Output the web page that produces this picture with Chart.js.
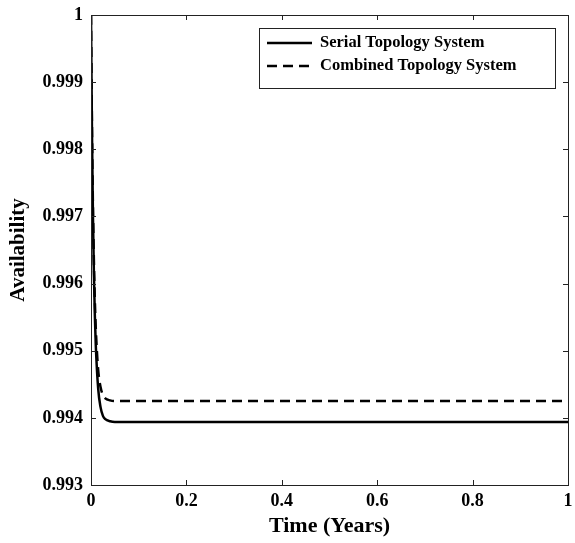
<!DOCTYPE html>
<html>
<head>
<meta charset="utf-8">
<script src="https://cdn.jsdelivr.net/npm/chart.js@4/dist/chart.umd.min.js"></script>
<style>
  html, body { margin: 0; padding: 0; background: #fff; }
  #wrap { position: relative; width: 575px; height: 543px; }
</style>
</head>
<body>
<div id="wrap"><canvas id="chart" width="575" height="543"></canvas></div>
<script>
// ---- data ----
const timeYears = [0, 0.002, 0.004, 0.006, 0.008, 0.01, 0.015, 0.02, 0.025, 0.03, 0.04, 0.05, 0.1, 0.2, 0.3, 0.4, 0.5, 0.6, 0.7, 0.8, 0.9, 1];
const serialAvail = [1, 0.99829, 0.99705, 0.99617, 0.99554, 0.99509, 0.99444, 0.99416, 0.99403, 0.99398, 0.99395, 0.99394, 0.99394, 0.99394, 0.99394, 0.99394, 0.99394, 0.99394, 0.99394, 0.99394, 0.99394, 0.99394];
const combinedAvail = [1, 0.99837, 0.99720, 0.99637, 0.99577, 0.99534, 0.99472, 0.99446, 0.99434, 0.99429, 0.99426, 0.99425, 0.99425, 0.99425, 0.99425, 0.99425, 0.99425, 0.99425, 0.99425, 0.99425, 0.99425, 0.99425];
const seriesLabels = ['Serial Topology System', 'Combined Topology System'];
const xTicks = [0, 0.2, 0.4, 0.6, 0.8, 1];
const yTicks = [0.993, 0.994, 0.995, 0.996, 0.997, 0.998, 0.999, 1];

const FONT = '"Liberation Serif", "Times New Roman", serif';

function toPoints(ys) {
    return timeYears.map((t, i) => ({ x: t, y: ys[i] }));
}

// box around plot + inward ticks on all four sides, plus the legend
const frame = {
    id: 'frame',
    afterDraw(chart) {
        const ctx = chart.ctx;
        const a = chart.chartArea;
        const xs = chart.scales.x, ys = chart.scales.y;
        const len = 5;
        ctx.save();
        ctx.strokeStyle = '#222';
        ctx.lineWidth = 1;
        ctx.strokeRect(a.left + 0.5, a.top + 0.5, a.right - a.left, a.bottom - a.top);
        ctx.beginPath();
        xTicks.forEach(v => {
            const px = Math.round(xs.getPixelForValue(v)) + 0.5;
            ctx.moveTo(px, a.bottom); ctx.lineTo(px, a.bottom - len);
            ctx.moveTo(px, a.top); ctx.lineTo(px, a.top + len);
        });
        yTicks.forEach(v => {
            const py = Math.round(ys.getPixelForValue(v)) + 0.5;
            ctx.moveTo(a.left, py); ctx.lineTo(a.left + len, py);
            ctx.moveTo(a.right, py); ctx.lineTo(a.right - len, py);
        });
        ctx.stroke();

        // legend
        const lx = 259, ly = 28, lw = 296, lh = 60;
        ctx.fillStyle = '#fff';
        ctx.fillRect(lx, ly, lw, lh);
        ctx.strokeStyle = '#222';
        ctx.strokeRect(lx + 0.5, ly + 0.5, lw, lh);
        ctx.font = 'bold 16.5px ' + FONT;
        ctx.textBaseline = 'middle';
        chart.data.datasets.forEach((ds, i) => {
            const y = ly + 15 + i * 23;
            ctx.beginPath();
            ctx.strokeStyle = '#000';
            ctx.lineWidth = 2.5;
            ctx.setLineDash(ds.borderDash || []);
            ctx.moveTo(lx + 8, y);
            ctx.lineTo(lx + 53, y);
            ctx.stroke();
            ctx.setLineDash([]);
            ctx.fillStyle = '#000';
            ctx.fillText(ds.label, lx + 61, y);
        });
        ctx.restore();
    }
};

new Chart(document.getElementById('chart'), {
    type: 'line',
    data: {
        datasets: [
            {
                label: seriesLabels[0],
                data: toPoints(serialAvail),
                borderColor: '#000',
                borderWidth: 2.5,
                pointRadius: 0,
                cubicInterpolationMode: 'monotone'
            },
            {
                label: seriesLabels[1],
                data: toPoints(combinedAvail),
                borderColor: '#000',
                borderWidth: 2.5,
                borderDash: [10, 6],
                pointRadius: 0,
                cubicInterpolationMode: 'monotone'
            }
        ]
    },
    options: {
        responsive: false,
        animation: false,
        layout: { padding: { top: 15, right: 7, left: 0, bottom: 0 } },
        plugins: { legend: { display: false }, tooltip: { enabled: false } },
        scales: {
            x: {
                type: 'linear',
                min: 0,
                max: 1,
                afterBuildTicks: s => { s.ticks = xTicks.map(v => ({ value: v })); },
                afterFit: s => { s.height = 58; s.paddingLeft = 0; s.paddingRight = 0; },
                grid: { display: false, drawTicks: false },
                border: { display: false },
                ticks: {
                    color: '#000',
                    padding: 6,
                    maxRotation: 0,
                    font: { family: FONT, size: 18, weight: 'bold' },
                    callback: v => String(Number(v.toFixed(1)))
                },
                title: {
                    display: true,
                    text: 'Time (Years)',
                    color: '#000',
                    padding: { top: 0, bottom: 3 },
                    font: { family: FONT, size: 22, weight: 'bold' }
                }
            },
            y: {
                type: 'linear',
                min: 0.993,
                max: 1,
                afterBuildTicks: s => { s.ticks = yTicks.map(v => ({ value: v })); },
                afterFit: s => { s.width = 91; s.paddingTop = 0; s.paddingBottom = 0; },
                grid: { display: false, drawTicks: false },
                border: { display: false },
                ticks: {
                    color: '#000',
                    padding: 8,
                    font: { family: FONT, size: 18, weight: 'bold' },
                    callback: v => String(Number(v.toFixed(3)))
                },
                title: {
                    display: true,
                    text: 'Availability',
                    color: '#000',
                    padding: { top: 6, bottom: 0 },
                    font: { family: FONT, size: 21, weight: 'bold' }
                }
            }
        }
    },
    plugins: [frame]
});
</script>
</body>
</html>
